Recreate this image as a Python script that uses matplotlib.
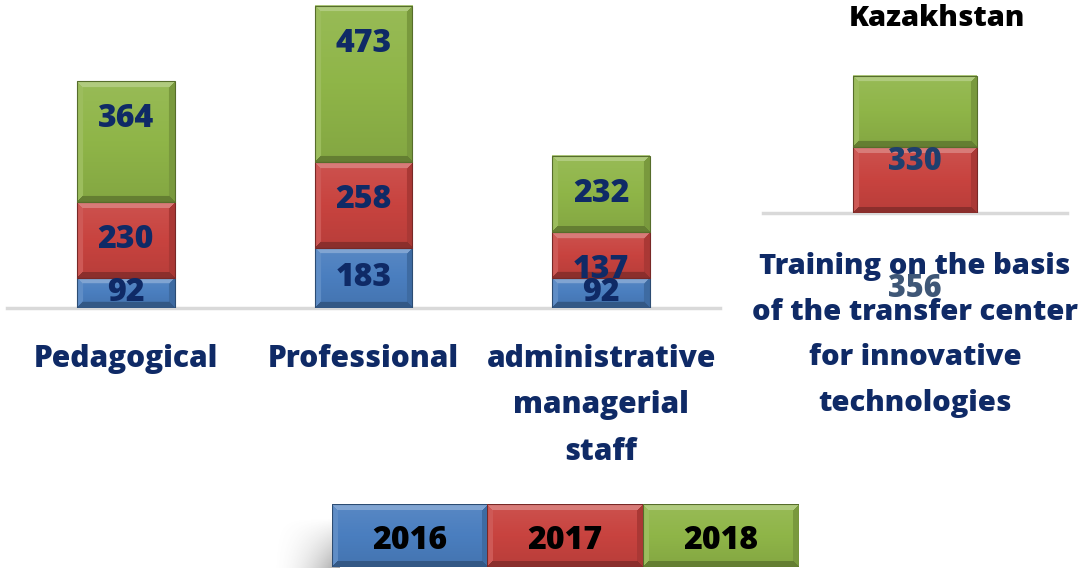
import numpy as np
import matplotlib
matplotlib.use('Agg')
import matplotlib.pyplot as plt
from matplotlib.colors import to_rgb
from matplotlib.patches import Rectangle

# datos
categorias = ['Pedagogical', 'Professional', 'administrative\nmanagerial\nstaff']
anios = ['2016', '2017', '2018']
v2016 = [92, 183, 92]
v2017 = [230, 258, 137]
v2018 = [364, 473, 232]

kz_titulo = 'Kazakhstan'
kz_categoria = 'Training on the basis\nof the transfer center\nfor innovative\ntechnologies'
kz_valores = [0, 330, 356]

colores = ['#4a7ebf', '#c8433f', '#8fb548']
azul_txt = '#0f2a66'

plt.rcParams['font.family'] = ['Open Sans', 'DejaVu Sans']
plt.rcParams['font.weight'] = 800

fig = plt.figure(figsize=(10.8, 5.68), dpi=100)
W, H = 1080, 568


def ejes(x0, x1, ytop, ybase):
    return fig.add_axes([x0 / W, (H - ybase) / H, (x1 - x0) / W, (ybase - ytop) / H])


def bisel(ax, rect, color):
    x0, y0 = rect.get_x(), rect.get_y()
    w, h = rect.get_width(), rect.get_height()
    if h <= 0:
        return
    p0 = ax.transData.transform((x0, y0))
    p1 = ax.transData.transform((x0 + w, y0 + h))
    nw = max(int(round(p1[0] - p0[0])), 2)
    nh = max(int(round(p1[1] - p0[1])), 2)
    yy, xx = np.mgrid[0:nh, 0:nw].astype(float)
    base = np.array(to_rgb(color))
    s = 0.08 - 0.16 * yy / (nh - 1)
    d = np.stack([yy, nh - 1 - yy, xx, nw - 1 - xx])
    lado = np.argmin(d, axis=0)
    dmin = np.min(d, axis=0)
    b = 6
    banda = dmin < b
    ajuste = np.array([0.3, -0.3, 0.12, -0.15])
    s = np.where(banda, ajuste[lado], s)
    s = s[..., None]
    rgb = np.where(s > 0, base + s * (1 - base), base * (1 + s))
    ax.imshow(np.clip(rgb, 0, 1), extent=(x0, x0 + w, y0, y0 + h), origin='upper',
              aspect='auto', zorder=3, interpolation='bilinear')
    ax.add_patch(Rectangle((x0, y0), w, h, fill=False, ec=tuple(base * 0.6), lw=0.8, zorder=4))


def apilar(ax, x, series, ancho):
    abajo = np.zeros(len(x))
    barras = []
    for vals, c in zip(series, colores):
        vals = np.array(vals, dtype=float)
        bs = ax.bar(x, vals, ancho, bottom=abajo, color=c, zorder=2)
        for r in bs:
            bisel(ax, r, c)
        barras.append((bs, vals, abajo.copy()))
        abajo += vals
    return barras


def limpiar(ax):
    for s in ax.spines.values():
        s.set_visible(False)
    ax.set_xticks([])
    ax.set_yticks([])
    ax.patch.set_alpha(0)
    ax.axhline(0, color='#d9d9d9', lw=2.5, zorder=1, clip_on=False)


# grafico principal
ax = ejes(7, 720, 4, 308)
ax.set_xlim(-0.5, 2.5)
ax.set_ylim(0, 920)
ax.set_autoscale_on(False)
x = np.arange(len(categorias))
barras = apilar(ax, x, [v2016, v2017, v2018], 0.41)
for k, (bs, vals, abajo) in enumerate(barras):
    for xi, v, a in zip(x, vals, abajo):
        yl = a + v / 2 if k == 0 else a + v - 115
        ax.text(xi, yl, f'{int(v)}', ha='center', va='center', fontsize=23,
                color=azul_txt, zorder=5)
for xi, cat in zip(x, categorias):
    ax.text(xi, -108, cat, ha='center', va='top', fontsize=21.5, color=azul_txt,
            linespacing=1.72)
limpiar(ax)

# Kazakhstan
ax2 = ejes(763, 1067, 60, 213)
ax2.set_xlim(-0.74, 0.74)
ax2.set_ylim(0, 765)
ax2.set_autoscale_on(False)
apilar(ax2, [0], [[v] for v in kz_valores], 0.6)
ax2.text(0, kz_valores[1] * 0.78, f'{kz_valores[1]}', ha='center', va='center',
         fontsize=22, color='#1f3f6e', zorder=5)
ax2.text(0, -380, f'{kz_valores[2]}', ha='center', va='center', fontsize=22,
         color='#2a4568', zorder=6, alpha=0.9)
ax2.text(0, -195, kz_categoria, ha='center', va='top', fontsize=21, color=azul_txt,
         linespacing=1.76, zorder=7)
limpiar(ax2)
fig.text(937 / W, 1 - 18 / H, kz_titulo, ha='center', va='center', fontsize=21,
         color='black')

# sombra de la leyenda
sx = fig.add_axes([270 / W, 0, 70 / W, 50 / H])
gx = np.linspace(0, 1, 70)
gy = np.linspace(0, 1, 50)[:, None]
alfa = (gx ** 2) * (1 - gy) * 0.55
img = np.zeros((50, 70, 4))
img[..., :3] = 0.35
img[..., 3] = alfa
sx.imshow(img, aspect='auto', origin='lower', interpolation='bilinear')
sx.axis('off')

# leyenda
lx = [332, 487, 643]
for i, (a, c) in enumerate(zip(anios, colores)):
    bx = fig.add_axes([lx[i] / W, (H - 567) / H, 156 / W, 63 / H])
    bx.set_xlim(0, 1)
    bx.set_ylim(0, 1)
    bx.set_autoscale_on(False)
    r = bx.bar([0.5], [1], 1, color=c)[0]
    bisel(bx, r, c)
    bx.text(0.5, 0.42, a, ha='center', va='center', fontsize=23, color='black', zorder=5)
    bx.axis('off')

fig.savefig('out.png', dpi=100)
